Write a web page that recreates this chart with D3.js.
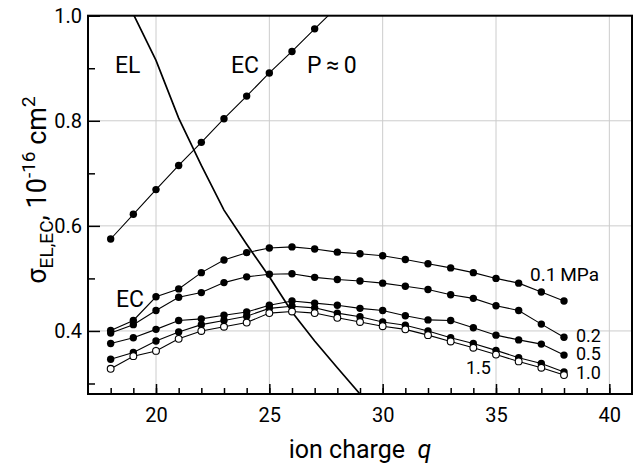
<!DOCTYPE html>
<html>
<head>
<meta charset="utf-8">
<script src="https://cdn.jsdelivr.net/npm/d3@7"></script>
<style>
  body { margin: 0; background: #fff; }
  text { font-family: Roboto, sans-serif; fill: #000; }
</style>
</head>
<body>
<script>
const width = 641;
const height = 469;

// ion charge q for the pressure curves
const charges = [18, 19, 20, 21, 22, 23, 24, 25, 26, 27, 28, 29, 30, 31, 32, 33, 34, 35, 36, 37, 38];
const ec01 = [0.401, 0.420, 0.465, 0.480, 0.511, 0.535, 0.549, 0.558, 0.560, 0.556, 0.550, 0.547, 0.543, 0.536, 0.528, 0.520, 0.511, 0.500, 0.491, 0.474, 0.457];
const ec02 = [0.396, 0.412, 0.439, 0.464, 0.473, 0.492, 0.503, 0.508, 0.509, 0.502, 0.498, 0.495, 0.491, 0.485, 0.479, 0.469, 0.462, 0.448, 0.439, 0.413, 0.388];
const ec05 = [0.376, 0.387, 0.403, 0.420, 0.423, 0.430, 0.436, 0.449, 0.457, 0.453, 0.449, 0.443, 0.439, 0.429, 0.421, 0.420, 0.406, 0.392, 0.383, 0.375, 0.354];
const ec10 = [0.346, 0.359, 0.381, 0.398, 0.412, 0.420, 0.428, 0.443, 0.447, 0.444, 0.434, 0.427, 0.417, 0.411, 0.400, 0.387, 0.376, 0.363, 0.349, 0.338, 0.322];
const ec15 = [0.328, 0.352, 0.362, 0.385, 0.400, 0.408, 0.416, 0.434, 0.437, 0.434, 0.425, 0.417, 0.409, 0.403, 0.392, 0.380, 0.368, 0.355, 0.342, 0.330, 0.316];

// P ~ 0 curve
const chargesP0 = [18, 19, 20, 21, 22, 23, 24, 25, 26, 27, 28];
const ecP0 = [0.575, 0.622, 0.669, 0.715, 0.759, 0.804, 0.847, 0.891, 0.932, 0.975, 1.017];

// EL curve
const chargesEL = [19, 20, 21, 22, 23, 24, 25, 26, 27, 28, 29];
const el = [1.003, 0.915, 0.805, 0.715, 0.630, 0.565, 0.503, 0.436, 0.381, 0.330, 0.280];

const xTicks = [20, 25, 30, 35, 40];
const yTicks = [0.4, 0.6, 0.8, 1.0];

const pLeft = 88, pRight = 632, pTop = 15.7, pBottom = 394;

const svg = d3.select('body').append('svg').attr('width', width).attr('height', height);

const x = d3.scaleLinear().domain([17, 41]).range([pLeft, pRight]);
const y = d3.scaleLinear().domain([0.28, 1.0]).range([pBottom, pTop]);

svg.append('clipPath').attr('id', 'clip')
  .append('rect')
  .attr('x', pLeft).attr('y', pTop)
  .attr('width', pRight - pLeft).attr('height', pBottom - pTop);

// grid
svg.append('g').selectAll('line')
  .data(xTicks)
  .enter().append('line')
  .attr('x1', d => x(d)).attr('x2', d => x(d))
  .attr('y1', pTop).attr('y2', pBottom)
  .style('stroke', '#cccccc').style('stroke-width', 1);
svg.append('g').selectAll('line')
  .data(yTicks.filter(d => d < 1))
  .enter().append('line')
  .attr('x1', pLeft).attr('x2', pRight)
  .attr('y1', d => y(d)).attr('y2', d => y(d))
  .style('stroke', '#cccccc').style('stroke-width', 1);

// axes (ticks pointing inwards)
svg.append('g')
  .attr('transform', `translate(0,${pBottom})`)
  .call(d3.axisBottom(x).tickValues(d3.range(18, 41)).tickSize(-6).tickFormat(''))
  .call(g => g.select('.domain').remove());
svg.append('g')
  .attr('transform', `translate(0,${pBottom})`)
  .call(d3.axisBottom(x).tickValues(xTicks).tickSize(-10).tickPadding(14).tickFormat(d3.format('d')))
  .call(g => g.select('.domain').remove())
  .call(g => g.selectAll('text').style('font-size', '20px').style('font-family', 'Roboto'));

svg.append('g')
  .attr('transform', `translate(${pLeft},0)`)
  .call(d3.axisLeft(y).tickValues([0.3, 0.5, 0.7, 0.9]).tickSize(-7).tickFormat(''))
  .call(g => g.select('.domain').remove());
svg.append('g')
  .attr('transform', `translate(${pLeft},0)`)
  .call(d3.axisLeft(y).tickValues(yTicks).tickSize(-12).tickPadding(6).tickFormat(d3.format('.1f')))
  .call(g => g.select('.domain').remove())
  .call(g => g.selectAll('text').style('font-size', '20px').style('font-family', 'Roboto'));

svg.selectAll('.tick line').style('stroke', '#000').style('stroke-width', 1.5);

// frame
svg.append('rect')
  .attr('x', pLeft).attr('y', pTop)
  .attr('width', pRight - pLeft).attr('height', pBottom - pTop)
  .style('fill', 'none').style('stroke', '#000').style('stroke-width', 2);

const plot = svg.append('g').attr('clip-path', 'url(#clip)');

const line = d3.line().x(d => x(d[0])).y(d => y(d[1]));

// EL curve
plot.append('path')
  .datum(chargesEL.map((q, i) => [q, el[i]]))
  .attr('d', line)
  .style('fill', 'none').style('stroke', '#000').style('stroke-width', 1.7);

const series = [
  {vals: ecP0, qs: chargesP0, open: false},
  {vals: ec01, qs: charges, open: false},
  {vals: ec02, qs: charges, open: false},
  {vals: ec05, qs: charges, open: false},
  {vals: ec10, qs: charges, open: false},
  {vals: ec15, qs: charges, open: true}
];

series.forEach(function(s) {
  const pts = s.qs.map((q, i) => [q, s.vals[i]]);
  plot.append('path')
    .datum(pts)
    .attr('d', line)
    .style('fill', 'none').style('stroke', '#000').style('stroke-width', 1.1);
  plot.append('g').selectAll('circle')
    .data(pts)
    .enter().append('circle')
    .attr('cx', d => x(d[0]))
    .attr('cy', d => y(d[1]))
    .attr('r', s.open ? 3.4 : 3.7)
    .style('fill', s.open ? '#fff' : '#000')
    .style('stroke', '#000').style('stroke-width', s.open ? 1.1 : 0);
});

// annotations
const notes = [
  {t: 'EL', x: 115, y: 73, s: 23},
  {t: 'EC', x: 231, y: 73, s: 23},
  {t: 'P\u2009\u2248\u20090', x: 307, y: 73, s: 23},
  {t: 'EC', x: 116, y: 306.5, s: 23},
  {t: '0.1\u2009MPa', x: 530, y: 280.5, s: 19},
  {t: '0.2', x: 576, y: 342, s: 18},
  {t: '0.5', x: 576, y: 360, s: 18},
  {t: '1.0', x: 576, y: 379, s: 18},
  {t: '1.5', x: 466, y: 374, s: 18}
];
svg.append('g').selectAll('text')
  .data(notes)
  .enter().append('text')
  .attr('x', d => d.x).attr('y', d => d.y)
  .style('font-size', d => d.s + 'px')
  .text(d => d.t);

// axis titles
const xt = svg.append('text')
  .attr('x', 360).attr('y', 458)
  .attr('text-anchor', 'middle')
  .style('font-size', '25px');
xt.append('tspan').text('ion charge\u00a0\u00a0');
xt.append('tspan').style('font-style', 'italic').text('q');

const yt = svg.append('text')
  .attr('transform', 'translate(46,190) rotate(-90)')
  .attr('text-anchor', 'middle')
  .style('font-size', '27px');
yt.append('tspan').text('\u03c3');
yt.append('tspan').attr('dy', 7).style('font-size', '19px').text('EL,EC');
yt.append('tspan').attr('dy', -7).text(', 10');
yt.append('tspan').attr('dy', -11).style('font-size', '19px').text('-16');
yt.append('tspan').attr('dy', 11).text(' cm');
yt.append('tspan').attr('dy', -11).style('font-size', '19px').text('2');
</script>
</body>
</html>
